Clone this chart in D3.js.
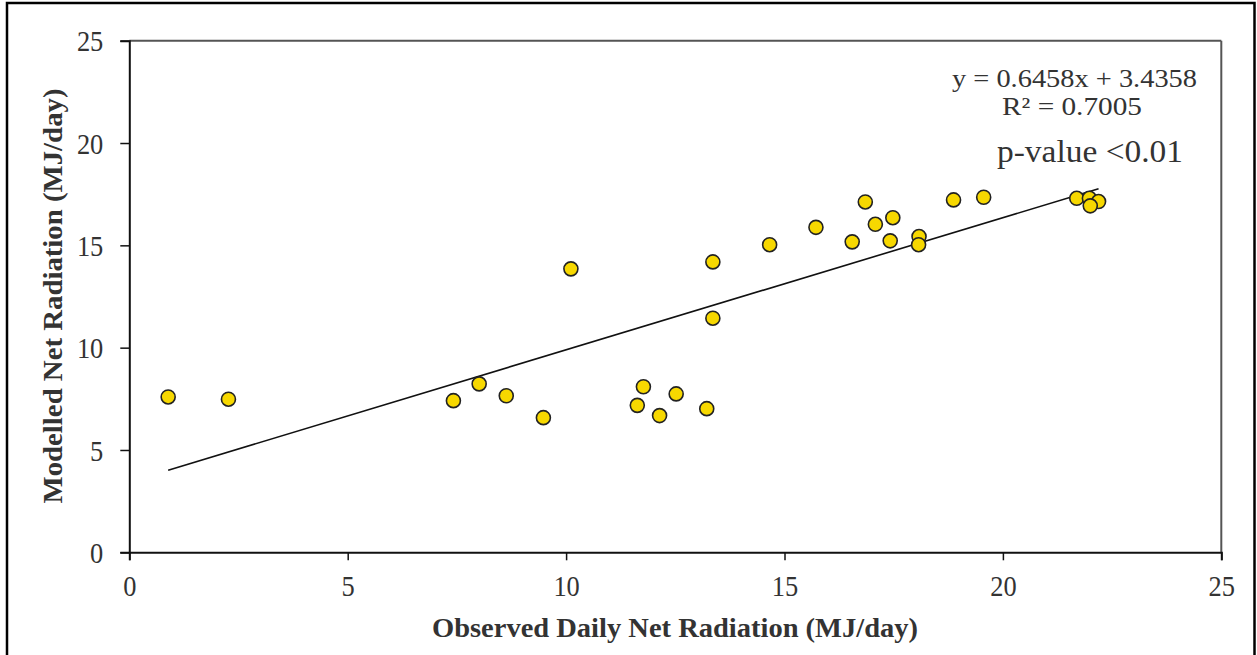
<!DOCTYPE html>
<html>
<head>
<meta charset="utf-8">
<script src="https://cdn.jsdelivr.net/npm/d3@7"></script>
<style>
  html, body { margin: 0; padding: 0; background: #fff; }
  svg { display: block; }
</style>
</head>
<body>
<script>
// Observed vs modelled daily net radiation (MJ/day)
const observed = [0.89, 2.27, 7.42, 8.01, 8.63, 9.48, 10.11, 11.63, 11.77, 12.14,
  12.52, 13.22, 13.36, 13.36, 14.66, 15.72, 16.55, 16.85, 17.08, 17.42,
  17.48, 18.08, 18.07, 18.87, 19.56, 21.69, 21.98, 22.19, 22.00];
const modelled = [7.59, 7.48, 7.41, 8.23, 7.65, 6.58, 13.85, 7.18, 8.09, 6.68,
  7.74, 7.02, 14.19, 11.44, 15.03, 15.88, 15.17, 17.12, 16.03, 15.22,
  16.35, 15.43, 15.03, 17.22, 17.35, 17.30, 17.30, 17.14, 16.93];
const xTicks = [0, 5, 10, 15, 20, 25];
const yTicks = [0, 5, 10, 15, 20, 25];
const slope = 0.6458;
const intercept = 3.4358;
const fitLabels = ["y = 0.6458x + 3.4358", "R² = 0.7005", "p-value <0.01"];

const W = 1257, H = 655;
const plotLeft = 129.3, plotRight = 1221.3, plotTop = 40.7, plotBottom = 552.3;

const svg = d3.select("body").append("svg")
  .attr("width", W).attr("height", H);

// outer frame
svg.append("rect")
  .attr("x", 7).attr("y", 3).attr("width", 1247.5).attr("height", H + 10)
  .attr("fill", "none").attr("stroke", "#000").attr("stroke-width", 2.5);

const x = d3.scaleLinear().domain([0, 25]).range([plotLeft, plotRight]);
const y = d3.scaleLinear().domain([0, 25]).range([plotBottom, plotTop]);

// plot box: top and right edges
svg.append("line").attr("x1", plotLeft).attr("x2", plotRight).attr("y1", plotTop).attr("y2", plotTop)
  .attr("stroke", "#555").attr("stroke-width", 2);
svg.append("line").attr("x1", plotRight).attr("x2", plotRight).attr("y1", plotTop).attr("y2", plotBottom)
  .attr("stroke", "#555").attr("stroke-width", 2);

const font = "'Liberation Serif', 'Times New Roman', serif";

const xAxis = svg.append("g")
  .attr("transform", `translate(0,${plotBottom})`)
  .call(d3.axisBottom(x).tickValues(xTicks).tickSize(8).tickPadding(15).tickFormat(d3.format("d")));
const yAxis = svg.append("g")
  .attr("transform", `translate(${plotLeft},0)`)
  .call(d3.axisLeft(y).tickValues(yTicks).tickSize(9).tickPadding(17).tickFormat(d3.format("d")));

[xAxis, yAxis].forEach(g => {
  g.select(".domain").attr("stroke", "#111").attr("stroke-width", 2);
  g.selectAll(".tick line").attr("stroke", "#111").attr("stroke-width", 1.5);
  g.selectAll(".tick text")
    .attr("fill", "#333")
    .style("font-family", font)
    .style("font-size", "29px")
    .attr("textLength", d => String(d).length * 13.2)
    .attr("lengthAdjust", "spacingAndGlyphs");
});
yAxis.selectAll(".tick text").attr("dy", "0.35em");

// axis titles
svg.append("text")
  .attr("x", 675).attr("y", 637)
  .attr("text-anchor", "middle")
  .attr("fill", "#333")
  .style("font-family", font).style("font-weight", "bold").style("font-size", "27px")
  .attr("textLength", 486).attr("lengthAdjust", "spacingAndGlyphs")
  .text("Observed Daily Net Radiation (MJ/day)");
svg.append("text")
  .attr("transform", "translate(62,296) rotate(-90)")
  .attr("text-anchor", "middle")
  .attr("fill", "#333")
  .style("font-family", font).style("font-weight", "bold").style("font-size", "27px")
  .attr("textLength", 415).attr("lengthAdjust", "spacingAndGlyphs")
  .text("Modelled Net Radiation (MJ/day)");

// linear fit over the observed range
const xMin = d3.min(observed), xMax = d3.max(observed);
svg.append("line")
  .attr("x1", x(xMin)).attr("y1", y(slope * xMin + intercept))
  .attr("x2", x(xMax)).attr("y2", y(slope * xMax + intercept))
  .attr("stroke", "#111").attr("stroke-width", 1.6);

// points
const pts = observed.map((v, i) => ({ o: v, m: modelled[i] }));
svg.append("g").selectAll("circle")
  .data(pts).join("circle")
  .attr("cx", d => x(d.o)).attr("cy", d => y(d.m))
  .attr("r", 7)
  .attr("fill", "#f7d800")
  .attr("stroke", "#222").attr("stroke-width", 1.6);

// fit annotation
const ann = [
  { t: fitLabels[0], cx: 1074.5, by: 87, fs: 24.5, w: 245 },
  { t: fitLabels[1], cx: 1072, by: 115, fs: 24.5, w: 140 },
  { t: fitLabels[2], cx: 1090, by: 162, fs: 31, w: 186 }
];
svg.append("g").selectAll("text")
  .data(ann).join("text")
  .attr("x", d => d.cx).attr("y", d => d.by)
  .attr("text-anchor", "middle")
  .attr("fill", "#333")
  .style("font-family", font)
  .style("font-size", d => d.fs + "px")
  .attr("textLength", d => d.w)
  .attr("lengthAdjust", "spacingAndGlyphs")
  .text(d => d.t);
</script>
</body>
</html>
